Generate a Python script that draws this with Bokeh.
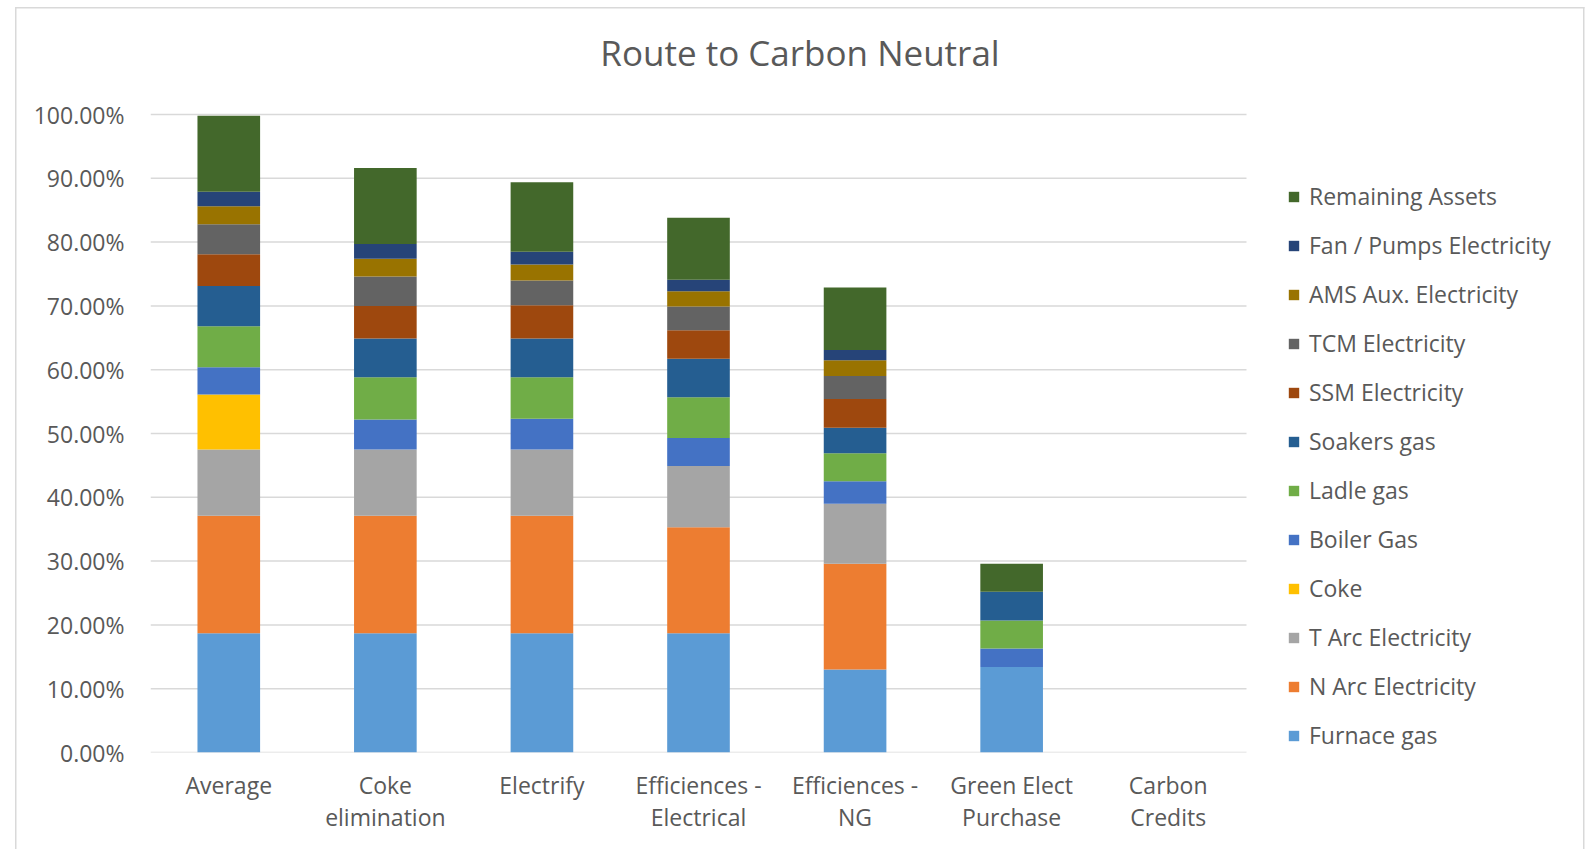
from bokeh.plotting import figure
from bokeh.models import (ColumnDataSource, Range1d, Legend, LegendItem, Label,
                          NumeralTickFormatter, FixedTicker)
from bokeh.embed import file_html
from bokeh.resources import INLINE

categories = ["Average", "Coke\nelimination", "Electrify", "Efficiences -\nElectrical",
              "Efficiences -\nNG", "Green Elect\nPurchase", "Carbon\nCredits"]

# values in percent, stacked bottom -> top
furnace_gas = [18.7, 18.7, 18.7, 18.7, 13.0, 13.4, 0]
n_arc_electricity = [18.4, 18.4, 18.4, 16.6, 16.6, 0, 0]
t_arc_electricity = [10.4, 10.4, 10.4, 9.6, 9.4, 0, 0]
coke = [8.6, 0, 0, 0, 0, 0, 0]
boiler_gas = [4.3, 4.7, 4.8, 4.4, 3.5, 2.9, 0]
ladle_gas = [6.4, 6.6, 6.5, 6.4, 4.4, 4.4, 0]
soakers_gas = [6.3, 6.1, 6.1, 6.0, 4.0, 4.5, 0]
ssm_electricity = [5.0, 5.1, 5.2, 4.5, 4.5, 0, 0]
tcm_electricity = [4.7, 4.6, 3.9, 3.7, 3.6, 0, 0]
ams_aux_electricity = [2.8, 2.8, 2.5, 2.4, 2.5, 0, 0]
fan_pumps_electricity = [2.3, 2.3, 2.0, 1.8, 1.6, 0, 0]
remaining_assets = [11.9, 11.9, 10.9, 9.7, 9.8, 4.4, 0]

series_names = ["Furnace gas", "N Arc Electricity", "T Arc Electricity", "Coke", "Boiler Gas",
                "Ladle gas", "Soakers gas", "SSM Electricity", "TCM Electricity",
                "AMS Aux. Electricity", "Fan / Pumps Electricity", "Remaining Assets"]
series_values = [furnace_gas, n_arc_electricity, t_arc_electricity, coke, boiler_gas,
                 ladle_gas, soakers_gas, ssm_electricity, tcm_electricity,
                 ams_aux_electricity, fan_pumps_electricity, remaining_assets]
colors = ["#5B9BD5", "#ED7D31", "#A5A5A5", "#FFC000", "#4472C4", "#70AD47",
          "#255E91", "#9E480E", "#636363", "#997300", "#264478", "#43682B"]

y_ticks = [0, 0.1, 0.2, 0.3, 0.4, 0.5, 0.6, 0.7, 0.8, 0.9, 1.0]
chart_title = "Route to Carbon Neutral"

n = len(categories)
x_pos = [i + 0.5 for i in range(n)]
keys = ["s%d" % i for i in range(len(series_names))]
data = {"x": x_pos}
for k, vals in zip(keys, series_values):
    data[k] = [v / 100.0 for v in vals]
source = ColumnDataSource(data)

# frame: left 150px .. right edge, top edge .. 752px; 7 categories span 1096px
x_end = n * 1446.0 / 1096.0
y_end = 752.0 / 638.0
p = figure(x_range=Range1d(0, x_end), y_range=Range1d(0, y_end),
           width=1596, height=849, output_backend="svg", toolbar_location=None,
           min_border_left=150, min_border_right=0, min_border_top=0,
           min_border_bottom=97)
# transparent canvas; white page with the light chart-area border drawn by CSS
p.background_fill_color = None
p.border_fill_color = None
p.outline_line_color = None
line_img = "linear-gradient(#D9D9D9, #D9D9D9)"
p.styles = {
    "background-color": "white",
    "background-image": ", ".join([line_img] * 3),
    "background-position": "15px 7px, 15px 7px, 1583px 7px",
    "background-size": "1.5px 842px, 1569.5px 1.5px, 1.5px 842px",
    "background-repeat": "no-repeat",
}
p.xgrid.visible = False
p.ygrid.visible = False

# horizontal gridlines across the category area only
p.segment(x0=[0] * len(y_ticks), x1=[n] * len(y_ticks), y0=y_ticks, y1=y_ticks,
          line_color="#D9D9D9", line_width=1.5)

renderers = p.vbar_stack(keys, x="x", width=0.4, source=source, color=colors,
                         line_color=None)

p.yaxis.ticker = FixedTicker(ticks=y_ticks)
p.yaxis.formatter = NumeralTickFormatter(format="0.00%")
p.xaxis.ticker = FixedTicker(ticks=x_pos)
p.xaxis.major_label_overrides = {xp: c for xp, c in zip(x_pos, categories)}
for ax in (p.xaxis[0], p.yaxis[0]):
    ax.axis_line_color = None
    ax.major_tick_line_color = None
    ax.minor_tick_line_color = None
    ax.major_tick_out = 0
    ax.major_tick_in = 0
    ax.minor_tick_out = 0
    ax.minor_tick_in = 0
    ax.major_label_text_font = "Open Sans"
    ax.major_label_text_font_size = "23px"
    ax.major_label_text_color = "#595959"
p.yaxis.major_label_standoff = 26
p.xaxis.major_label_standoff = 16
p.xaxis.major_label_text_line_height = 1.0

title = Label(x=(799.5 - 150) / 156.57, y=1 + (114 - 52) / 638.0, text=chart_title,
              text_align="center", text_baseline="middle", text_font_size="35px",
              text_color="#595959", text_font="Open Sans")
p.add_layout(title)

items = [LegendItem(label=nm, renderers=[r]) for nm, r in zip(series_names, renderers)]
items.reverse()
legend = Legend(items=items, location=(1137, -5), label_text_font="Open Sans",
                label_text_font_size="23px", label_text_color="#595959",
                glyph_width=13, glyph_height=13, label_standoff=9, label_height=44,
                spacing=5, border_line_color=None, background_fill_alpha=0,
                padding=10, margin=0)
p.add_layout(legend)

open("out.html", "w").write(file_html(p, INLINE))
